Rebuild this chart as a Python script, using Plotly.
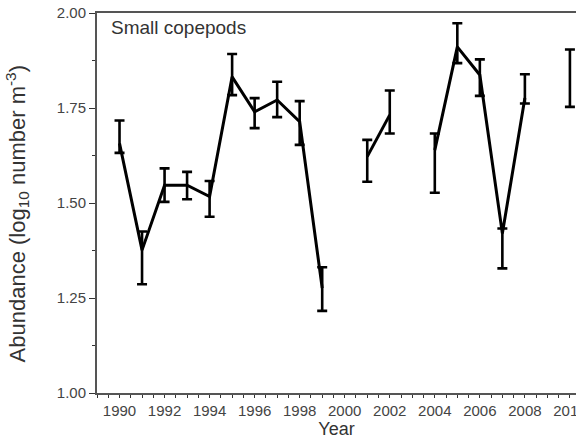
import plotly.graph_objects as go

# Annual small-copepod abundance (log10 number m^-3) with asymmetric error limits
years = list(range(1990, 2011))
abundance = [1.657, 1.376, 1.547, 1.547, 1.517, 1.832, 1.740, 1.771, 1.714, 1.276,
             None, 1.622, 1.732, None, 1.639, 1.911, 1.837, 1.420, 1.776, None, 1.828]
upper = [1.717, 1.425, 1.591, 1.582, 1.558, 1.892, 1.776, 1.819, 1.768, 1.331,
         None, 1.666, 1.796, None, 1.683, 1.973, 1.878, 1.433, 1.839, None, 1.904]
lower = [1.632, 1.286, 1.503, 1.510, 1.464, 1.784, 1.697, 1.726, 1.653, 1.216,
         None, 1.556, 1.683, None, 1.527, 1.868, 1.782, 1.328, 1.762, None, 1.753]

err_plus = [None if m is None else u - m for m, u in zip(abundance, upper)]
err_minus = [None if m is None else m - l for m, l in zip(abundance, lower)]

year_ticks = list(range(1990, 2011, 2))
abund_ticks = [1.00, 1.25, 1.50, 1.75, 2.00]

font_family = "Liberation Sans, Arial, sans-serif"
grey = "#444444"

fig = go.Figure()
fig.add_trace(go.Scatter(
    x=years, y=abundance,
    mode="lines",
    line=dict(color="black", width=3),
    connectgaps=False,
    error_y=dict(type="data", symmetric=False, array=err_plus, arrayminus=err_minus,
                 color="black", thickness=2.6, width=5),
    showlegend=False,
))

# Panel label inside the top-left corner
fig.add_annotation(
    x=0.026, y=0.995, xref="paper", yref="paper", xanchor="left", yanchor="top",
    text="Small copepods", showarrow=False,
    font=dict(family=font_family, size=19, color="#333333"),
)

# Rotated y-axis title, placed a little below the axis midpoint
fig.add_annotation(
    x=-0.167, y=0.47, xref="paper", yref="paper", xanchor="center", yanchor="middle",
    textangle=-90, showarrow=False,
    text="Abundance (log<sub>10</sub> number m<sup>-3</sup>)",
    font=dict(family=font_family, size=22, color="#333333"),
)

fig.update_layout(
    width=576, height=442,
    margin=dict(l=97, r=0, t=13, b=49),
    paper_bgcolor="white", plot_bgcolor="white",
    font=dict(family=font_family, size=14, color=grey),
    xaxis=dict(
        range=[1989.0, 2010.27],
        automargin=False,
        tickmode="array", tickvals=year_ticks, ticktext=[str(y) for y in year_ticks],
        ticks="outside", ticklen=3, tickwidth=1.2, tickcolor="#333333",
        minor=dict(dtick=0.5, tick0=1990, ticks="outside", ticklen=3,
                   tickwidth=1.2, tickcolor="#333333"),
        showline=True, linecolor="#555555", linewidth=2, mirror=True,
        showgrid=False, zeroline=False,
        ticklabeloverflow="allow",
        tickfont=dict(size=15, color=grey),
        title=dict(text="Year", font=dict(size=18, color="#333333"), standoff=2),
    ),
    yaxis=dict(
        range=[1.0, 2.0],
        automargin=False,
        tickmode="array", tickvals=abund_ticks,
        ticktext=[f"{v:.2f}" for v in abund_ticks],
        ticks="outside", ticklen=6, tickwidth=1.2, tickcolor="#333333",
        minor=dict(dtick=0.125, tick0=1.0, ticks="outside", ticklen=3,
                   tickwidth=1.2, tickcolor="#333333"),
        showline=True, linecolor="#555555", linewidth=2, mirror=False,
        showgrid=False, zeroline=False,
        tickfont=dict(size=15, color=grey),
    ),
)

fig.write_html("out.html")
